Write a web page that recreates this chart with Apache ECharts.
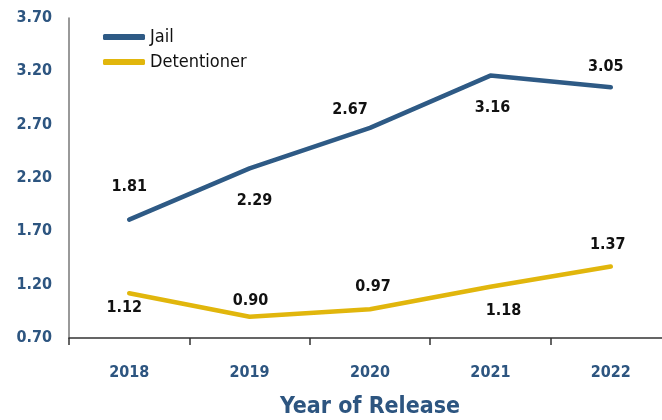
<!DOCTYPE html>
<html>
<head>
    <meta charset="utf-8"/>
    <title>Year of Release</title>
</head>
<body style="margin:0">

<div id="main" style="width: 662px;height:420px;"></div>

</body>
<script src="https://cdn.jsdelivr.net/npm/echarts@6/dist/echarts.min.js"></script>

<script>
    var years = ['2018', '2019', '2020', '2021', '2022'];
    var jail = [1.81, 2.29, 2.67, 3.16, 3.05];
    var detentioner = [1.12, 0.90, 0.97, 1.18, 1.37];

    // where each value label sits (top / bottom of its point)
    var jailLabelPos = ['top', 'bottom', 'top', 'bottom', 'top'];
    var jailLabelDist = [24, 24, 10, 24, 12];
    var jailLabelDx = [0, 5, -20, 2, -5];
    var detLabelPos = ['bottom', 'top', 'top', 'bottom', 'top'];
    var detLabelDist = [6, 7, 14, 16, 13];
    var detLabelDx = [-5, 1, 3, 13, -3];

    var font = '"DejaVu Sans Condensed", "Liberation Sans Narrow", sans-serif';
    var blue = '#2d5580';

    function buildData(values, pos, dist, dx) {
        return values.map(function (v, i) {
            return {
                value: v,
                label: {position: pos[i], distance: dist[i], offset: [dx[i], 0]}
            };
        });
    }

    var myChart = echarts.init(document.getElementById('main'));

    var option = {
        animation: false,
        grid: {left: 69, top: 18, width: 602, bottom: 82, outerBoundsMode: 'none', containLabel: false},
        legend: {
            orient: 'vertical',
            left: 98,
            top: 23,
            itemGap: 7,
            itemWidth: 42,
            itemHeight: 6,
            icon: 'roundRect',
            textStyle: {fontFamily: font, fontSize: 18, color: '#111'},
            data: ['Jail', 'Detentioner']
        },
        xAxis: {
            type: 'category',
            data: years,
            boundaryGap: true,
            axisLine: {lineStyle: {color: '#333', width: 1.5}},
            axisTick: {show: true, inside: false, length: 7, lineStyle: {color: '#333', width: 1.5}},
            axisLabel: {
                margin: 27, fontFamily: font, fontWeight: 'bold', fontSize: 16, color: blue
            },
            name: 'Year of Release',
            nameLocation: 'middle',
            nameGap: 58,
            nameTextStyle: {fontFamily: font, fontWeight: 'bold', fontSize: 23, color: blue}
        },
        yAxis: {
            type: 'value',
            min: 0.7,
            max: 3.7,
            interval: 0.1,
            splitLine: {show: false},
            axisLine: {show: true, lineStyle: {color: '#777', width: 1.5}},
            axisTick: {show: false},
            axisLabel: {
                margin: 17,
                fontFamily: font, fontWeight: 'bold', fontSize: 16, color: blue,
                formatter: function (v) {
                    var k = Math.round((v - 0.7) * 10);
                    return k % 5 === 0 ? v.toFixed(2) : '';
                }
            }
        },
        series: [{
            name: 'Jail',
            type: 'line',
            symbol: 'circle',
            symbolSize: 1,
            color: '#2e5a85',
            lineStyle: {width: 4.5, cap: 'round'},
            label: {
                show: true, fontFamily: font, fontWeight: 'bold', fontSize: 16, color: '#111',
                formatter: function (p) { return p.value.toFixed(2); }
            },
            data: buildData(jail, jailLabelPos, jailLabelDist, jailLabelDx)
        }, {
            name: 'Detentioner',
            type: 'line',
            symbol: 'circle',
            symbolSize: 1,
            color: '#e1b60c',
            lineStyle: {width: 4.5, cap: 'round'},
            label: {
                show: true, fontFamily: font, fontWeight: 'bold', fontSize: 16, color: '#111',
                formatter: function (p) { return p.value.toFixed(2); }
            },
            data: buildData(detentioner, detLabelPos, detLabelDist, detLabelDx)
        }]
    };

    myChart.setOption(option);
</script>
</html>
